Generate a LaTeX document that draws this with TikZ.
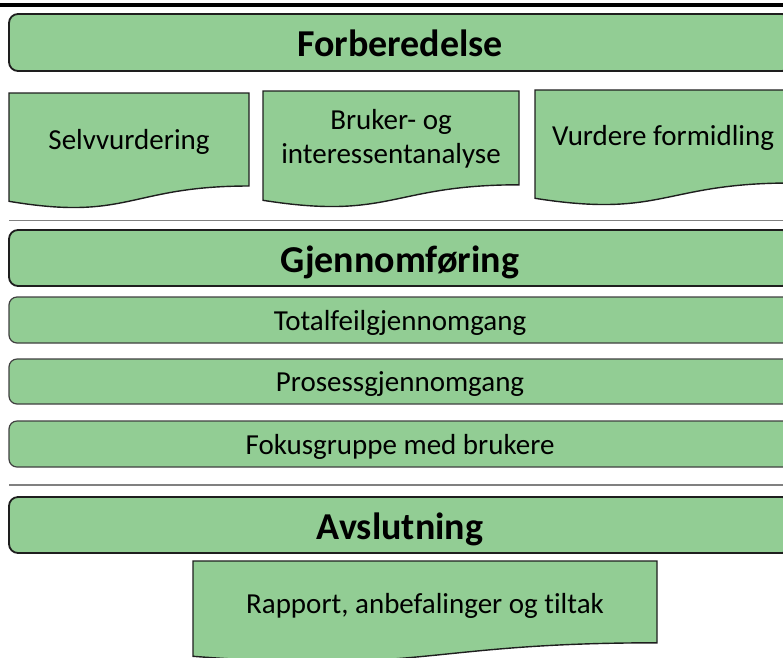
\documentclass[tikz,border=0pt]{standalone}
\usepackage{fontspec}
\setmainfont{Carlito}[Ligatures=NoCommon]
\definecolor{fasegronn}{RGB}{146,205,148}
\definecolor{kantmork}{RGB}{30,30,30}
\definecolor{kantgraa}{RGB}{64,64,64}
\definecolor{skillegraa}{RGB}{128,128,128}
\begin{document}
\begin{tikzpicture}[
		x=1pt, y=-1pt,
		% Stil for fasene (store avrundede bokser med fet tekst)
		phase style/.style={rectangle, rounded corners=9pt, draw=kantmork, line width=1.8pt, fill=fasegronn,
			minimum width=782pt, minimum height=56pt, inner sep=0pt,
			font=\fontsize{38}{44}\selectfont\bfseries, text height=31pt, text depth=3pt},
		% Stil for aktivitetene i gjennomfoeringen
		task style/.style={rectangle, rounded corners=8pt, draw=kantgraa, line width=1.2pt, fill=fasegronn,
			minimum width=782pt, minimum height=46pt, inner sep=0pt,
			font=\fontsize{29}{34}\selectfont, text height=24.5pt, text depth=4.5pt},
		% Stil for dokumentformene
		doc style/.style={draw=kantmork, line width=1.4pt, fill=fasegronn},
		doc text/.style={align=center, inner sep=0pt,
			font=\fontsize{29}{34}\selectfont, text height=24.5pt, text depth=4.5pt},
		% Stil for skillelinjene
		sep style/.style={draw=skillegraa, line width=1.3pt}
	]
	\useasboundingbox (0,0) rectangle (783,657);
	\clip (0,0) rectangle (783,657);

	% =================================
	% TOPPLINJE
	% =================================
	\draw[line width=4pt] (0,5) -- (783,5);

	% =================================
	% FORBEREDELSE
	% =================================
	\node[phase style, minimum height=57pt] (forb) at (400,42.5) {Forberedelse};

	\draw[doc style] (9,93) -- (249,93) -- (249,186)
		.. controls (129,186) and (129,221.5) .. (9,201.3) -- cycle;
	\node[doc text] (selv) at (129,139.3) {Selvvurdering};

	\draw[doc style] (263,91) -- (519,91) -- (519,184.8)
		.. controls (391,184.8) and (391,220.6) .. (263,200.3) -- cycle;
	\node[doc text] (bruker) at (391,153.5) {Bruker- og\\interessentanalyse};

	\draw[doc style] (535,90) -- (791,90) -- (791,183)
		.. controls (663,183) and (663,218.5) .. (535,198.3) -- cycle;
	\node[doc text] (formidl) at (663,135) {Vurdere formidling};

	\draw[sep style] (9,220.5) -- (791,220.5);

	% =================================
	% GJENNOMFOERING
	% =================================
	\node[phase style] (gjen) at (400,258) {Gjennomføring};

	\node[task style] (total) at (400,320) {Totalfeilgjennomgang};
	\node[task style, minimum height=45pt] (prosess) at (400,381.5) {Prosessgjennomgang};
	\node[task style] (fokus) at (400,444) {Fokusgruppe med brukere};

	\draw[sep style] (9,485) -- (791,485);

	% =================================
	% AVSLUTNING
	% =================================
	\node[phase style] (avsl) at (400,525) {Avslutning};

	\draw[doc style] (193,561) -- (657,561) -- (657,642.8)
		.. controls (425,642.8) and (425,674) .. (193,656.3) -- cycle;
	\node[doc text] (rapport) at (425,603.3) {Rapport, anbefalinger og tiltak};

\end{tikzpicture}
\end{document}
